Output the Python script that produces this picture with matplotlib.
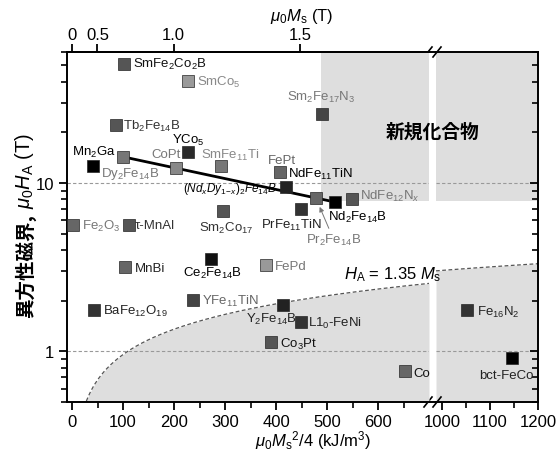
import numpy as np
import matplotlib
matplotlib.use('Agg')
import matplotlib.pyplot as plt
from matplotlib.lines import Line2D

plt.rcParams['font.family'] = ['Liberation Sans', 'DejaVu Sans']
plt.rcParams['mathtext.fontset'] = 'custom'
plt.rcParams['mathtext.rm'] = 'Liberation Sans'
plt.rcParams['mathtext.it'] = 'Liberation Sans:italic'
plt.rcParams['mathtext.bf'] = 'Liberation Sans:bold'

# ---------------- data ----------------
names = ['SmFe$_2$Co$_2$B', 'SmCo$_5$', 'Tb$_2$Fe$_{14}$B', 'Mn$_2$Ga', 'Dy$_2$Fe$_{14}$B',
         'CoPt', 'YCo$_5$', 'SmFe$_{11}$Ti', 'Sm$_2$Co$_{17}$', 'Fe$_2$O$_3$', 'τ-MnAl',
         'FePt', 'NdFe$_{11}$TiN', 'PrFe$_{11}$TiN', 'Pr$_2$Fe$_{14}$B', 'Nd$_2$Fe$_{14}$B',
         'NdFe$_{12}$N$_x$', 'Sm$_2$Fe$_{17}$N$_3$', 'Ce$_2$Fe$_{14}$B', 'FePd',
         'YFe$_{11}$TiN', 'Y$_2$Fe$_{14}$B', 'L1$_0$-FeNi', 'Co$_3$Pt', 'MnBi',
         'BaFe$_{12}$O$_{19}$', 'Co', 'Fe$_{16}$N$_2$', 'bct-FeCo']
energy = [102, 227, 86, 41, 100, 204, 228, 292, 296, 2, 112, 408, 420, 449, 478, 516,
          549, 490, 273, 380, 237, 414, 449, 390, 104, 43, 653, 1052, 1146]   # kJ/m3
field = [51, 40.5, 22.1, 12.6, 14.3, 12.3, 15.3, 12.6, 6.8, 5.6, 5.6, 11.6, 9.5, 7.0,
         8.15, 7.7, 8.0, 25.8, 3.53, 3.25, 2.01, 1.88, 1.49, 1.13, 3.16, 1.75, 0.76,
         1.75, 0.91]   # T

line_start = 'Dy$_2$Fe$_{14}$B'
line_end = 'Nd$_2$Fe$_{14}$B'
ratio_HA = 1.35
new_K_min = 488
new_H_min = 7.8
top_T_ticks = [0, 0.5, 1.0, 1.5]
top_T_labels = ['0', '0.5', '1.0', '1.5']
mu0 = 4 * np.pi * 1e-7

# ---------------- styles ----------------
marker_colors = ['#555555', '#9a9a9a', '#555555', '#000000', '#777777', '#888888', '#2a2a2a',
                 '#777777', '#555555', '#666666', '#555555', '#666666', '#222222', '#333333',
                 '#666666', '#000000', '#555555', '#444444', '#111111', '#999999', '#444444',
                 '#222222', '#333333', '#555555', '#666666', '#333333', '#666666', '#333333',
                 '#000000']
text_colors = ['#111111', '#888888', '#333333', '#000000', '#777777', '#777777', '#000000',
               '#888888', '#333333', '#777777', '#333333', '#666666', '#000000', '#222222',
               '#777777', '#000000', '#777777', '#777777', '#000000', '#777777', '#666666',
               '#222222', '#222222', '#111111', '#222222', '#222222', '#111111', '#222222',
               '#222222']
# label offsets in pixels (dx, dy up), horizontal alignment
label_pos = [(9, 0, 'left'), (9, -1, 'left'), (7, 0, 'left'), (1, 15, 'center'),
             (7, -16, 'center'), (-10, 14, 'center'), (0, 12, 'center'), (9, 12, 'center'),
             (3, -16, 'center'), (9, 0, 'left'), (6, 0, 'left'), (2, 12, 'center'),
             (2, 13, 'left'), (-10, -15, 'center'), (18, -42, 'center'), (22, -14, 'center'),
             (8, 4, 'left'), (-1, 17, 'center'), (1, -13, 'center'), (9, -1, 'left'),
             (9, 0, 'left'), (-12, -13, 'center'), (7, 0, 'left'), (9, -1, 'left'),
             (10, -1, 'left'), (9, 0, 'left'), (8, -2, 'left'), (10, -1, 'left'),
             (-6, -17, 'center')]

GRAY = '#dedede'
W, H = 558, 456
fig = plt.figure(figsize=(W / 100, H / 100), dpi=100)
L, R, T, B = 67, 538, 53, 403
xb1, xb2 = 429, 436
fx = lambda p: p / W
fy = lambda p: 1 - p / H
axL = fig.add_axes([fx(L), fy(B), fx(xb1) - fx(L), fy(T) - fy(B)])
axR = fig.add_axes([fx(xb2), fy(B), fx(R) - fx(xb2), fy(T) - fy(B)], sharey=axL)
axR.patch.set_visible(False)
axL.patch.set_visible(False)
axR.set_zorder(0)
axL.set_zorder(2)

axL.set_yscale('log')
axL.set_ylim(0.5, 60)
axL.set_xlim(-10, 700)
axR.set_xlim(987, 1200)

for ax in (axL, axR):
    for s in ax.spines.values():
        s.set_linewidth(1.4)
axL.spines['right'].set_visible(False)
axR.spines['left'].set_visible(False)

# shaded regions
for ax, (k0, k1) in ((axL, (0.5, 700)), (axR, (987, 1200))):
    K = np.linspace(k0, k1, 500)
    hA = ratio_HA * np.sqrt(4 * mu0 * K * 1e3)
    ax.fill_between(K, 0.01, hA, color=GRAY, lw=0, zorder=0)
    ax.plot(K, hA, color='#555555', lw=0.9, ls=(0, (3, 2)), zorder=1)
    ax.fill_between([max(k0, new_K_min), k1], new_H_min, 1000, color=GRAY, lw=0, zorder=0)
    ax.axhline(10, color='#999999', lw=0.8, ls=(0, (3, 2)), zorder=1)
    ax.axhline(1, color='#999999', lw=0.8, ls=(0, (3, 2)), zorder=1)

# line (NdxDy1-x)2Fe14B
i0, i1 = names.index(line_start), names.index(line_end)
axL.plot([energy[i0], energy[i1]], [field[i0], field[i1]], color='black', lw=2, zorder=2)

# points
for n, k, h, mc, tc, (dx, dy, ha) in zip(names, energy, field, marker_colors, text_colors, label_pos):
    ax = axL if k < 800 else axR
    ax.plot([k], [h], ls='none', marker='s', ms=8, mfc=mc, mec='#262626', mew=0.5, zorder=3)
    if n == 'Pr$_2$Fe$_{14}$B':
        ax.annotate(n, xy=(k, h), xytext=(dx, dy), textcoords='offset pixels',
                    ha=ha, va='center', fontsize=9.5, color=tc, zorder=4,
                    arrowprops=dict(arrowstyle='-|>', color='#777777', lw=0.7,
                                    mutation_scale=7, shrinkA=1, shrinkB=7))
    else:
        ax.annotate(n, xy=(k, h), xytext=(dx, dy), textcoords='offset pixels',
                    ha=ha, va='center', fontsize=9.5, color=tc, zorder=4,
                    annotation_clip=False)

axL.text(309, 9.4, r'$(Nd_xDy_{1\!-\!x})_2Fe_{14}B$', fontsize=8.5, ha='center',
         va='center', zorder=4)
axL.text(629, 2.88, r'$H_\mathrm{A}$ = 1.35 $M_\mathrm{s}$', fontsize=12, ha='center',
         va='center', zorder=5)
fig.text(fx(433), fy(132), '新規化合物', fontsize=13.5, weight='bold', ha='center',
         va='center', family=['Noto Sans CJK JP', 'DejaVu Sans'])

# ticks
axL.set_yticks([1, 10], ['1', '10'])
minors = [0.5, 0.6, 0.7, 0.8, 0.9, 2, 3, 4, 5, 6, 7, 8, 9, 20, 30, 40, 50, 60]
axL.set_yticks(minors, minor=True)
axL.yaxis.set_minor_formatter(plt.NullFormatter())
axL.set_xticks(np.arange(0, 601, 100))
axL.set_xticks(np.arange(50, 700, 100), minor=True)
axR.set_xticks([1000, 1100, 1200])
axR.set_xticks([1050, 1150], minor=True)
axL.tick_params(axis='both', which='major', labelsize=12, length=6, width=1.3, direction='out')
axL.tick_params(axis='both', which='minor', length=4, width=1.2, direction='out')
axL.tick_params(axis='y', right=False, which='both')
axL.tick_params(axis='x', top=False, which='both', pad=3)
axR.tick_params(axis='y', which='both', left=False, right=True, labelleft=False,
                labelright=False, direction='in')
axR.tick_params(axis='y', which='major', length=6, width=1.3)
axR.tick_params(axis='y', which='minor', length=4, width=1.2)
axR.tick_params(axis='x', which='major', labelsize=12, length=6, width=1.3, top=False, pad=3)
axR.tick_params(axis='x', which='minor', length=4, width=1.2, top=False)

# top axis (mu0 Ms)
axT = axL.twiny()
axT.set_zorder(3)
axT.patch.set_visible(False)
axT.set_xlim(axL.get_xlim())
axT.set_xticks([t ** 2 / (4 * mu0) / 1e3 for t in top_T_ticks], top_T_labels)
axT.tick_params(axis='x', labelsize=12, length=6, width=1.3, direction='out', pad=1)
for s in ('left', 'right', 'bottom'):
    axT.spines[s].set_visible(False)
axT.spines['top'].set_linewidth(1.4)

# axis labels
fig.text(fx(313), fy(441), r'$\mu_0M_\mathrm{s}$$^2$/4 (kJ/m$^3$)', fontsize=12,
         ha='center', va='center')
fig.text(fx(302), fy(16), r'$\mu_0M_\mathrm{s}$ (T)', fontsize=12, ha='center', va='center')
t1 = fig.text(fx(25), fy(318), '異方性磁界,', rotation=90, ha='center', va='bottom',
              fontsize=14, weight='bold', family=['Noto Sans CJK JP', 'DejaVu Sans'])
fig.add_artist(matplotlib.text.Annotation(
    r'$\mu_0H_\mathrm{A}$ (T)', xy=(0.5, 1.0), xycoords=t1, xytext=(0, 4),
    textcoords='offset points', ha='center', va='bottom', rotation=90, fontsize=14.5))

# axis break connectors and marks
for yp in (T, B):
    fig.add_artist(Line2D([fx(xb1), fx(xb2)], [fy(yp), fy(yp)], color='black', lw=1.4,
                          transform=fig.transFigure))
    for xp in (xb1 - 1, xb2 + 1):
        fig.add_artist(Line2D([fx(xp - 4), fx(xp + 4)], [fy(yp + 5), fy(yp - 5)],
                              color='black', lw=1.2, transform=fig.transFigure))

fig.savefig('out.png', dpi=100)
